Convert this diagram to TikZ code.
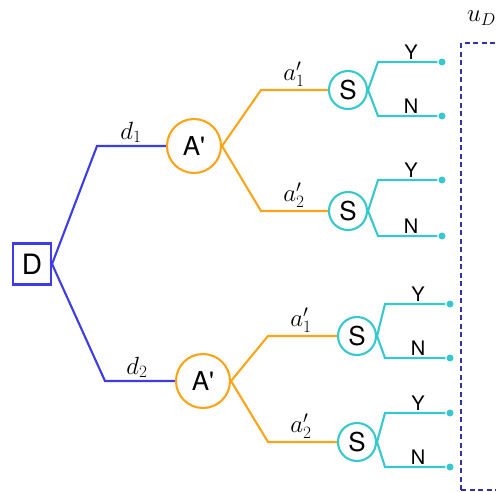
\documentclass[tikz,border=0pt]{standalone}
\usepackage{fontspec}
\newfontfamily\labelfont{TeX Gyre Heros}
\definecolor{dblue}{RGB}{60,60,235}
\definecolor{aorange}{RGB}{250,165,25}
\definecolor{scyan}{RGB}{55,200,205}
\definecolor{ublue}{RGB}{50,50,165}
\begin{document}
\begin{tikzpicture}[x=1pt, y=-1pt, line width=2.1pt,
  decision/.style={draw=dblue, minimum width=38pt, minimum height=41pt, inner sep=0pt, font=\labelfont\fontsize{28}{28}\selectfont},
  chance/.style={draw=aorange, circle, minimum size=54pt, inner sep=0pt, font=\labelfont\fontsize{26}{26}\selectfont},
  signal/.style={draw=scyan, circle, minimum size=38pt, inner sep=0pt, font=\labelfont\fontsize{26}{26}\selectfont},
  leaf/.style={circle, fill=scyan, minimum size=7pt, inner sep=0pt},
  ans/.style={font=\labelfont\fontsize{20}{20}\selectfont, inner sep=1pt},
  lab/.style={font=\fontsize{25}{25}\selectfont, inner sep=2pt}]
  \useasboundingbox (0,0) rectangle (496,491);

  % Nodes
  \node[decision] (D) at (32,264) {D};
  \node[chance] (A1) at (194,146) {A'};
  \node[chance] (A2) at (203,381) {A'};
  \node[signal] (S1) at (348,90) {S};
  \node[signal] (S2) at (348,211) {S};
  \node[signal] (S3) at (357,336) {S};
  \node[signal] (S4) at (357,442) {S};

  % Corners
  \coordinate (c1) at (97,146);
  \coordinate (c2) at (105,381);
  \coordinate (c3) at (261,90);
  \coordinate (c4) at (261,211);
  \coordinate (c5) at (268,336);
  \coordinate (c6) at (268,442);
  \coordinate (y1) at (378,62);
  \coordinate (n1) at (378,116);
  \coordinate (y2) at (378,180);
  \coordinate (n2) at (378,236);
  \coordinate (y3) at (385,304);
  \coordinate (n3) at (385,358);
  \coordinate (y4) at (385,413);
  \coordinate (n4) at (385,467);

  % Leaves
  \node[leaf] (l1) at (442,62) {};
  \node[leaf] (l2) at (442,116) {};
  \node[leaf] (l3) at (442,180) {};
  \node[leaf] (l4) at (442,236) {};
  \node[leaf] (l5) at (450,304) {};
  \node[leaf] (l6) at (450,358) {};
  \node[leaf] (l7) at (450,413) {};
  \node[leaf] (l8) at (450,467) {};

  % Drawing
  \draw[dblue] (D.east) -- (c1) -- (A1.west);
  \draw[dblue] (D.east) -- (c2) -- (A2.west);
  \draw[aorange] (A1.east) -- (c3) -- (S1.west);
  \draw[aorange] (A1.east) -- (c4) -- (S2.west);
  \draw[aorange] (A2.east) -- (c5) -- (S3.west);
  \draw[aorange] (A2.east) -- (c6) -- (S4.west);
  \draw[scyan] (S1.east) -- (y1) -- (l1);
  \draw[scyan] (S1.east) -- (n1) -- (l2);
  \draw[scyan] (S2.east) -- (y2) -- (l3);
  \draw[scyan] (S2.east) -- (n2) -- (l4);
  \draw[scyan] (S3.east) -- (y3) -- (l5);
  \draw[scyan] (S3.east) -- (n3) -- (l6);
  \draw[scyan] (S4.east) -- (y4) -- (l7);
  \draw[scyan] (S4.east) -- (n4) -- (l8);
  \draw[ublue, line width=1.6pt, dash pattern=on 5pt off 3.5pt] (461,490) -- (461,43) -- (520,43);
  \draw[ublue, line width=1.6pt, dash pattern=on 5pt off 3.5pt] (461,490) -- (520,490);

  % Labels
  \node[lab, above] at (131,146) {$d_1$};
  \node[lab, above] at (137,381) {$d_2$};
  \node[lab, above] at (294,90) {$a_1'$};
  \node[lab, above] at (294,211) {$a_2'$};
  \node[lab, above] at (301,336) {$a_1'$};
  \node[lab, above] at (301,442) {$a_2'$};
  \node[ans, above] at (411,62) {Y};
  \node[ans, above] at (411,116) {N};
  \node[ans, above] at (411,180) {Y};
  \node[ans, above] at (411,236) {N};
  \node[ans, above] at (418,304) {Y};
  \node[ans, above] at (418,358) {N};
  \node[ans, above] at (418,413) {Y};
  \node[ans, above] at (418,467) {N};
  \node[lab, anchor=west] at (464,18) {$u_D$};
\end{tikzpicture}
\end{document}
